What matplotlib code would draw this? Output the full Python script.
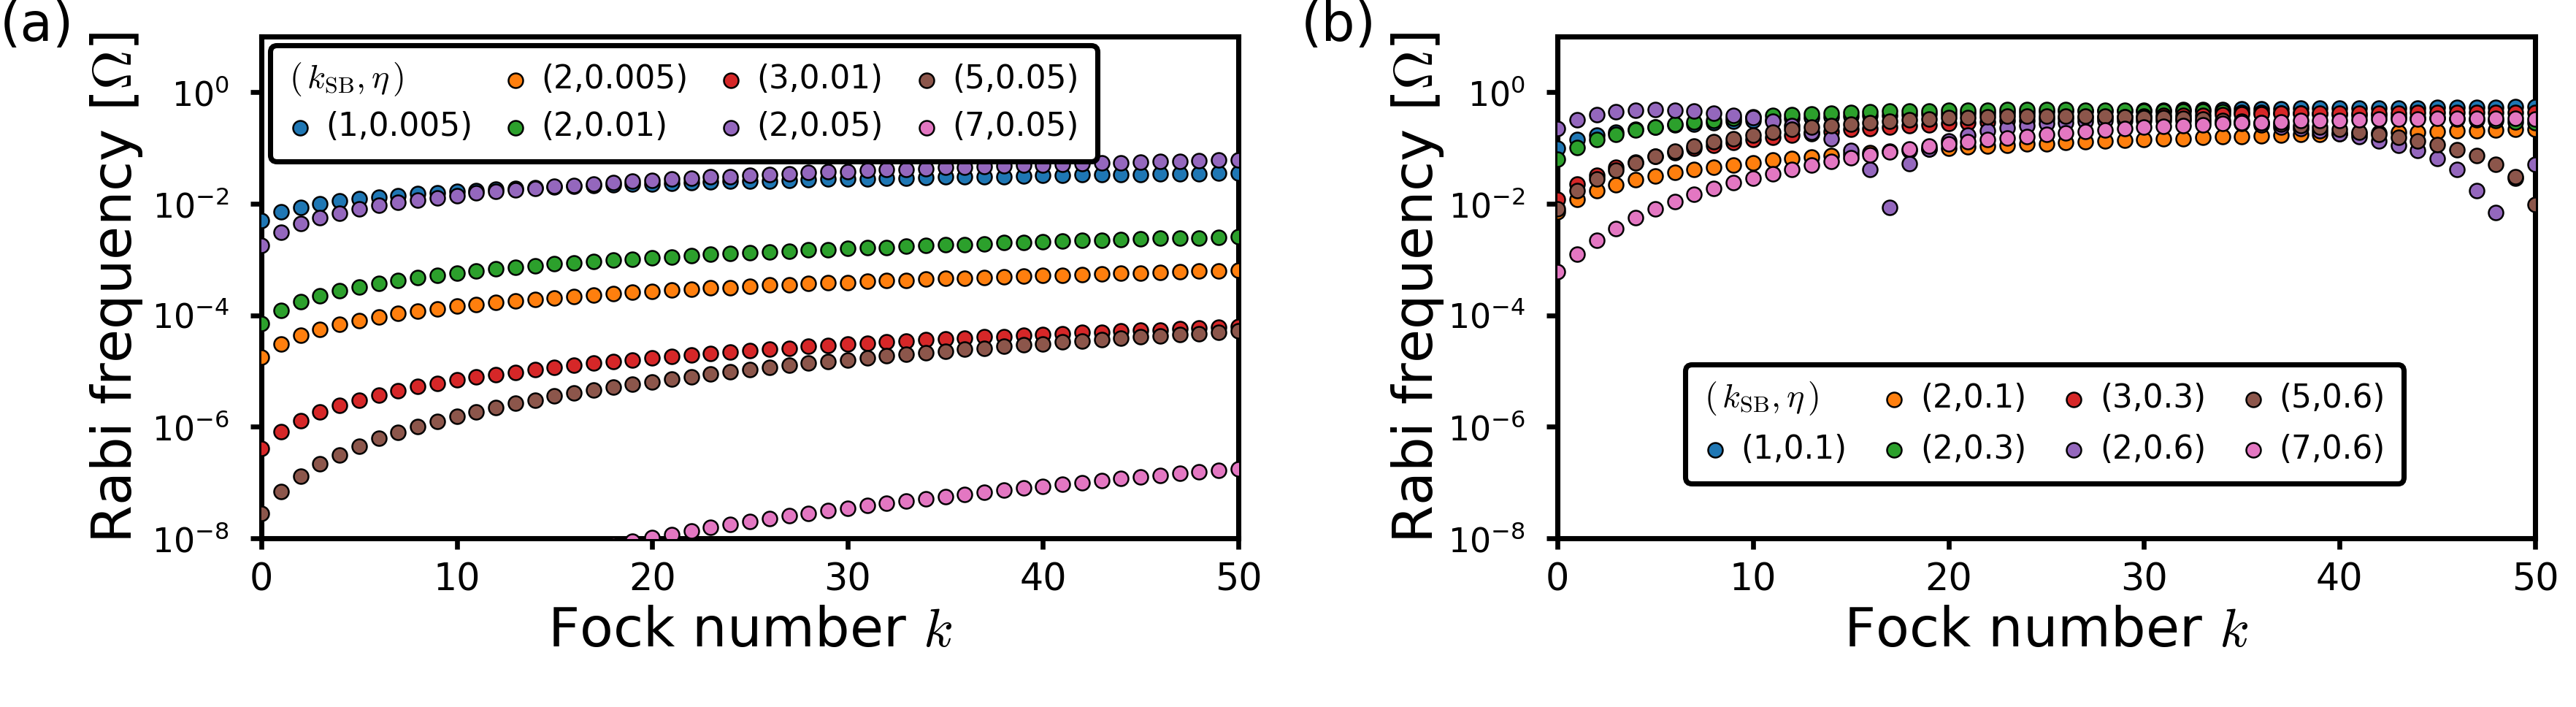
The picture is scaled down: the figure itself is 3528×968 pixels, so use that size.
import numpy as np
import matplotlib
matplotlib.use("Agg")
import matplotlib.pyplot as plt
from matplotlib.lines import Line2D
from matplotlib.ticker import NullLocator

plt.rcParams['font.family'] = ['DejaVu Sans']
plt.rcParams['mathtext.fontset'] = 'cm'
plt.rcParams['axes.unicode_minus'] = False

fock = np.arange(51)

labels_a = ['(1,0.005)', '(2,0.005)', '(2,0.01)', '(3,0.01)', '(2,0.05)', '(5,0.05)', '(7,0.05)']
labels_b = ['(1,0.1)', '(2,0.1)', '(2,0.3)', '(3,0.3)', '(2,0.6)', '(5,0.6)', '(7,0.6)']
xticks = [0, 10, 20, 30, 40, 50]
yticks = [1e-8, 1e-6, 1e-4, 1e-2, 1e0]

# log10 of the Rabi frequency (in units of Omega)
# panel (a)
a_1_0005 = [-2.30,-2.15,-2.06,-2.00,-1.95,-1.91,-1.88,-1.85,-1.82,-1.80,
            -1.78,-1.76,-1.74,-1.73,-1.71,-1.70,-1.69,-1.67,-1.66,-1.65,
            -1.64,-1.63,-1.62,-1.61,-1.60,-1.59,-1.59,-1.58,-1.57,-1.56,
            -1.56,-1.55,-1.54,-1.54,-1.53,-1.52,-1.52,-1.51,-1.51,-1.50,
            -1.49,-1.49,-1.48,-1.48,-1.47,-1.47,-1.46,-1.46,-1.46,-1.45,-1.45]
a_2_0005 = [-4.75,-4.51,-4.36,-4.25,-4.16,-4.09,-4.03,-3.97,-3.93,-3.88,
            -3.84,-3.81,-3.77,-3.74,-3.71,-3.69,-3.66,-3.64,-3.61,-3.59,
            -3.57,-3.55,-3.53,-3.51,-3.50,-3.48,-3.46,-3.45,-3.43,-3.42,
            -3.41,-3.39,-3.38,-3.37,-3.35,-3.34,-3.33,-3.32,-3.31,-3.30,
            -3.29,-3.28,-3.27,-3.26,-3.25,-3.24,-3.23,-3.22,-3.21,-3.20,-3.19]
a_2_001 = [-4.15,-3.91,-3.76,-3.65,-3.56,-3.49,-3.43,-3.37,-3.32,-3.28,
           -3.24,-3.20,-3.17,-3.14,-3.11,-3.08,-3.06,-3.03,-3.01,-2.99,
           -2.97,-2.95,-2.93,-2.91,-2.89,-2.88,-2.86,-2.85,-2.83,-2.82,
           -2.80,-2.79,-2.78,-2.76,-2.75,-2.74,-2.73,-2.72,-2.70,-2.69,
           -2.68,-2.67,-2.66,-2.65,-2.64,-2.63,-2.62,-2.62,-2.61,-2.60,-2.59]
a_3_001 = [-6.39,-6.09,-5.89,-5.74,-5.62,-5.52,-5.43,-5.35,-5.28,-5.22,
           -5.16,-5.11,-5.06,-5.02,-4.97,-4.93,-4.90,-4.86,-4.83,-4.80,
           -4.77,-4.74,-4.71,-4.68,-4.66,-4.63,-4.61,-4.59,-4.56,-4.54,
           -4.52,-4.50,-4.48,-4.46,-4.44,-4.43,-4.41,-4.39,-4.38,-4.36,
           -4.34,-4.33,-4.31,-4.30,-4.28,-4.27,-4.26,-4.24,-4.23,-4.22,-4.20]
a_2_005 = [-2.75,-2.51,-2.36,-2.25,-2.17,-2.09,-2.03,-1.98,-1.93,-1.89,
           -1.85,-1.81,-1.78,-1.75,-1.72,-1.69,-1.67,-1.64,-1.62,-1.60,
           -1.58,-1.56,-1.54,-1.52,-1.51,-1.49,-1.47,-1.46,-1.44,-1.43,
           -1.42,-1.40,-1.39,-1.38,-1.37,-1.35,-1.34,-1.33,-1.32,-1.31,
           -1.30,-1.29,-1.28,-1.27,-1.26,-1.25,-1.24,-1.24,-1.23,-1.22,-1.21]
a_5_005 = [-7.55,-7.16,-6.88,-6.67,-6.50,-6.35,-6.21,-6.10,-5.99,-5.90,
           -5.81,-5.73,-5.65,-5.58,-5.52,-5.45,-5.39,-5.34,-5.29,-5.23,
           -5.19,-5.14,-5.10,-5.05,-5.01,-4.97,-4.93,-4.90,-4.86,-4.83,
           -4.80,-4.76,-4.73,-4.70,-4.67,-4.64,-4.61,-4.59,-4.56,-4.53,
           -4.51,-4.48,-4.46,-4.44,-4.41,-4.39,-4.37,-4.35,-4.33,-4.30,-4.28]
a_7_005 = [-10.96,-10.51,-10.18,-9.92,-9.70,-9.51,-9.34,-9.19,-9.06,-8.93,
           -8.82,-8.71,-8.61,-8.52,-8.43,-8.35,-8.27,-8.19,-8.12,-8.05,
           -7.99,-7.93,-7.87,-7.81,-7.75,-7.70,-7.65,-7.60,-7.55,-7.50,
           -7.46,-7.41,-7.37,-7.33,-7.29,-7.25,-7.21,-7.17,-7.14,-7.10,
           -7.07,-7.03,-7.00,-6.97,-6.93,-6.90,-6.87,-6.84,-6.81,-6.78,-6.75]

# panel (b)
b_1_01 = [-1.00,-0.85,-0.77,-0.71,-0.66,-0.62,-0.59,-0.57,-0.54,-0.52,
          -0.50,-0.49,-0.47,-0.46,-0.44,-0.43,-0.42,-0.41,-0.40,-0.39,
          -0.39,-0.38,-0.37,-0.36,-0.36,-0.35,-0.34,-0.34,-0.33,-0.33,
          -0.32,-0.32,-0.31,-0.31,-0.31,-0.30,-0.30,-0.30,-0.29,-0.29,
          -0.29,-0.28,-0.28,-0.28,-0.28,-0.27,-0.27,-0.27,-0.27,-0.26,-0.26]
b_2_01 = [-2.15,-1.92,-1.77,-1.66,-1.57,-1.50,-1.44,-1.38,-1.34,-1.30,
          -1.26,-1.22,-1.19,-1.16,-1.13,-1.11,-1.08,-1.06,-1.04,-1.02,
          -1.00,-0.98,-0.96,-0.95,-0.93,-0.92,-0.90,-0.89,-0.87,-0.86,
          -0.85,-0.84,-0.83,-0.81,-0.80,-0.79,-0.78,-0.77,-0.76,-0.75,
          -0.74,-0.74,-0.73,-0.72,-0.71,-0.70,-0.69,-0.69,-0.68,-0.67,-0.67]
b_2_03 = [-1.20,-0.99,-0.85,-0.76,-0.68,-0.62,-0.57,-0.53,-0.50,-0.47,
          -0.44,-0.42,-0.40,-0.39,-0.37,-0.36,-0.35,-0.34,-0.33,-0.33,
          -0.32,-0.32,-0.32,-0.31,-0.31,-0.31,-0.31,-0.32,-0.32,-0.32,
          -0.33,-0.33,-0.34,-0.34,-0.35,-0.36,-0.36,-0.37,-0.38,-0.39,
          -0.40,-0.41,-0.42,-0.44,-0.45,-0.46,-0.48,-0.49,-0.51,-0.53,-0.54]
b_3_03 = [-1.92,-1.65,-1.49,-1.34,-1.25,-1.15,-1.08,-1.01,-0.95,-0.90,
          -0.85,-0.81,-0.77,-0.74,-0.70,-0.67,-0.65,-0.62,-0.60,-0.58,
          -0.56,-0.54,-0.53,-0.51,-0.50,-0.48,-0.47,-0.46,-0.45,-0.44,
          -0.43,-0.42,-0.41,-0.41,-0.40,-0.39,-0.39,-0.38,-0.38,-0.38,
          -0.37,-0.37,-0.37,-0.37,-0.36,-0.36,-0.36,-0.36,-0.36,-0.36,-0.36]
b_2_06 = [-0.65,-0.49,-0.40,-0.35,-0.32,-0.31,-0.32,-0.34,-0.37,-0.41,
          -0.46,-0.52,-0.60,-0.71,-0.84,-1.04,-1.38,-2.06,-1.28,-1.02,
          -0.87,-0.77,-0.69,-0.64,-0.60,-0.56,-0.54,-0.52,-0.51,-0.50,
          -0.50,-0.51,-0.51,-0.53,-0.54,-0.56,-0.59,-0.62,-0.65,-0.69,
          -0.74,-0.80,-0.87,-0.95,-1.05,-1.19,-1.39,-1.77,-2.16,-1.54,-1.29]
b_5_06 = [-2.09,-1.77,-1.56,-1.40,-1.27,-1.15,-1.06,-0.97,-0.89,-0.83,
          -0.77,-0.72,-0.67,-0.63,-0.60,-0.57,-0.54,-0.52,-0.49,-0.48,
          -0.46,-0.45,-0.44,-0.43,-0.43,-0.43,-0.43,-0.43,-0.43,-0.44,
          -0.45,-0.46,-0.47,-0.48,-0.50,-0.52,-0.54,-0.57,-0.60,-0.63,
          -0.67,-0.71,-0.76,-0.81,-0.87,-0.94,-1.03,-1.14,-1.29,-1.52,-2.01]
b_7_06 = [-3.22,-2.90,-2.65,-2.44,-2.25,-2.09,-1.96,-1.83,-1.72,-1.62,
          -1.54,-1.46,-1.38,-1.31,-1.24,-1.18,-1.12,-1.07,-1.02,-0.97,
          -0.93,-0.89,-0.85,-0.82,-0.79,-0.76,-0.73,-0.70,-0.68,-0.65,
          -0.63,-0.61,-0.60,-0.58,-0.56,-0.55,-0.54,-0.53,-0.51,-0.51,
          -0.50,-0.49,-0.48,-0.48,-0.48,-0.47,-0.47,-0.47,-0.47,-0.47,-0.48]

series_a = [a_1_0005, a_2_0005, a_2_001, a_3_001, a_2_005, a_5_005, a_7_005]
series_b = [b_1_01, b_2_01, b_2_03, b_3_03, b_2_06, b_5_06, b_7_06]

colors = ['#1f77b4', '#ff7f0e', '#2ca02c', '#d62728', '#9467bd', '#8c564b', '#e377c2']

W, H = 3528, 968
fig = plt.figure(figsize=(W/300, H/300), dpi=300)
ax_a = fig.add_axes([358/W, 1-737/H, 1338/W, 687/H])
ax_b = fig.add_axes([2133/W, 1-737/H, 1339/W, 687/H])

header = r'$(\,k_{\rm SB},\eta\,)$'

def draw(ax, series, labels, loc, anchor, ylab_x, colsp, labsp):
    hs = []
    for vals, c, lab in zip(series, colors, labels):
        h = ax.scatter(fock, 10**np.array(vals), s=23, c=c, edgecolors='k',
                       linewidths=0.6, label=lab, zorder=3)
        hs.append(h)
    ax.set_yscale('log')
    ax.set_xlim(0, 50)
    ax.set_ylim(1e-8, 1e1)
    ax.set_xticks(xticks)
    ax.set_yticks(yticks)
    ax.yaxis.set_minor_locator(NullLocator())
    for sp in ax.spines.values():
        sp.set_linewidth(1.7)
    ax.tick_params(axis='both', which='major', length=3.6, width=1.6)
    ax.tick_params(axis='x', labelsize=12.2, pad=4.3)
    ax.tick_params(axis='y', labelsize=11, pad=7)
    ax.set_xlabel('Fock number $k$', fontsize=18)
    ax.set_ylabel(r'Rabi frequency [$\mathit{\Omega}$]', fontsize=18)
    ax.yaxis.set_label_coords(ylab_x, 0.5)
    ax.xaxis.set_label_coords(0.5, -0.132)
    blank = Line2D([], [], linestyle='none', marker='')
    leg = ax.legend([blank] + hs, [' '] + labels, ncol=4, loc=loc,
                    bbox_to_anchor=anchor, borderaxespad=0, fontsize=10.5,
                    handlelength=0.7, handletextpad=0.46, columnspacing=colsp,
                    borderpad=0.58, labelspacing=labsp, frameon=True,
                    fancybox=True, framealpha=1, edgecolor='k')
    leg.get_frame().set_linewidth(1.7)
    return leg

leg_a = draw(ax_a, series_a, labels_a, 'upper left', (0.009, 0.9825), -0.1196, 0.99, 0.5)
leg_b = draw(ax_b, series_b, labels_b, 'lower left', (0.1307, 0.109), -0.1143, 1.14, 0.6)

fig.canvas.draw()
r = fig.canvas.get_renderer()
for leg in (leg_a, leg_b):
    fr = leg.get_frame().get_window_extent(r)
    t = leg.get_texts()[2].get_window_extent(r)
    yc = (t.y0 + t.y1) / 2
    fig.text((fr.x0 + 26) / W, yc / H, header, fontsize=11, ha='left', va='center')

fig.text(0.0, 1.0, '(a)', fontsize=17.5, ha='left', va='top')
fig.text(1782/W, 1.0, '(b)', fontsize=17.5, ha='left', va='top')

fig.savefig('out.png', dpi=300)
